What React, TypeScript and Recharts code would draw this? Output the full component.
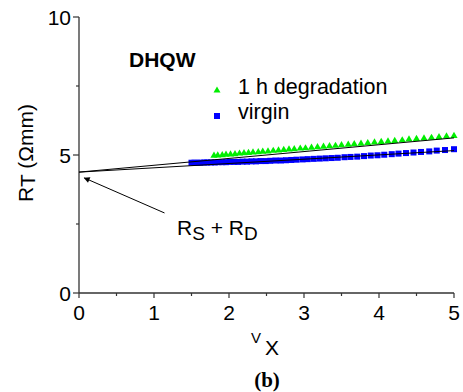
import React from 'react';
import { ScatterChart, Scatter, XAxis, YAxis } from 'recharts';

const FONT = '"Liberation Sans", Arial, Helvetica, sans-serif';

const xTicks = [0, 0.5, 1, 1.5, 2, 2.5, 3, 3.5, 4, 4.5, 5];
const yTicks = [0, 2.5, 5, 7.5, 10];

const degradedX = [1.80, 1.85, 1.91, 1.96, 2.02, 2.08, 2.14, 2.20, 2.26, 2.32, 2.39, 2.45, 2.52, 2.59, 2.66, 2.73, 2.80, 2.87, 2.95, 3.02, 3.10, 3.18, 3.26, 3.34, 3.42, 3.50, 3.59, 3.67, 3.76, 3.85, 3.94, 4.03, 4.12, 4.21, 4.31, 4.40, 4.50, 4.60, 4.70, 4.80, 4.90, 5.00];
const degradedY = [5.00, 5.01, 5.02, 5.04, 5.05, 5.06, 5.08, 5.09, 5.10, 5.12, 5.13, 5.15, 5.16, 5.18, 5.19, 5.21, 5.23, 5.24, 5.26, 5.27, 5.29, 5.31, 5.33, 5.35, 5.36, 5.38, 5.40, 5.42, 5.44, 5.46, 5.48, 5.50, 5.52, 5.54, 5.56, 5.59, 5.61, 5.63, 5.65, 5.67, 5.70, 5.72];

const virginX = [1.50, 1.54, 1.58, 1.62, 1.67, 1.71, 1.76, 1.81, 1.86, 1.91, 1.96, 2.01, 2.07, 2.12, 2.18, 2.24, 2.30, 2.36, 2.42, 2.49, 2.55, 2.62, 2.69, 2.76, 2.83, 2.90, 2.98, 3.05, 3.13, 3.21, 3.29, 3.37, 3.45, 3.54, 3.62, 3.71, 3.80, 3.89, 3.98, 4.07, 4.17, 4.26, 4.36, 4.46, 4.56, 4.67, 4.77, 4.88, 5.00];
const virginY = [4.72, 4.72, 4.72, 4.72, 4.73, 4.73, 4.73, 4.73, 4.74, 4.74, 4.74, 4.75, 4.75, 4.75, 4.76, 4.76, 4.77, 4.77, 4.78, 4.78, 4.79, 4.80, 4.80, 4.81, 4.82, 4.83, 4.84, 4.85, 4.86, 4.87, 4.88, 4.89, 4.90, 4.92, 4.93, 4.94, 4.96, 4.98, 4.99, 5.01, 5.03, 5.05, 5.07, 5.09, 5.11, 5.13, 5.16, 5.18, 5.21];

const fitX = [0, 5];
const fitUpperY = [4.38, 5.62];
const fitLowerY = [4.38, 5.16];

const arrowX = [1.14, 0.07];
const arrowY = [2.9, 4.17];

const zip = (xs: number[], ys: number[]) => xs.map((x, i) => ({ x, y: ys[i] }));

const degradedData = zip(degradedX, degradedY);
const virginData = zip(virginX, virginY);
const fitUpper = zip(fitX, fitUpperY);
const fitLower = zip(fitX, fitLowerY);
const arrowData = zip(arrowX, arrowY);

const AXIS = '#333';

const BottomTick = (p: any) => {
  const { x, y, payload } = p;
  const major = payload.value % 1 === 0;
  return (
    <g>
      <line x1={x} y1={y} x2={x} y2={y + (major ? 5 : 3)} stroke={AXIS} strokeWidth={1.2} />
      {major && (
        <text x={x} y={y + 26.5} textAnchor="middle" fontSize={21} fontFamily={FONT} fill="#000">
          {payload.value}
        </text>
      )}
    </g>
  );
};

const LeftTick = (p: any) => {
  const { x, y, payload } = p;
  const major = payload.value % 5 === 0;
  return (
    <g>
      <line x1={x} y1={y} x2={x - (major ? 6 : 3)} y2={y} stroke={AXIS} strokeWidth={1.2} />
      {major && (
        <text x={x - 8} y={y + 7.5} textAnchor="end" fontSize={21} fontFamily={FONT} fill="#000">
          {payload.value}
        </text>
      )}
    </g>
  );
};

const TopTick = (p: any) => {
  const { x, y, payload } = p;
  const major = payload.value % 1 === 0;
  return <line x1={x} y1={y} x2={x} y2={y + (major ? 4 : 3)} stroke={AXIS} strokeWidth={1.2} />;
};

const RightTick = (p: any) => {
  const { x, y, payload } = p;
  const major = payload.value % 5 === 0;
  return <line x1={x} y1={y} x2={x - (major ? 5 : 3)} y2={y} stroke={AXIS} strokeWidth={1.2} />;
};

const Triangle = (p: any) => {
  const { cx, cy } = p;
  return <polygon points={`${cx - 3.6},${cy + 2.8} ${cx + 3.6},${cy + 2.8} ${cx},${cy - 3.4}`} fill="#00ee00" />;
};

const Square = (p: any) => {
  const { cx, cy } = p;
  return <rect x={cx - 3} y={cy - 3} width={6} height={6} fill="#0000ff" />;
};

const Nothing = () => <g />;

export default function App() {
  return (
    <div style={{ position: 'absolute', left: 0, top: 0, width: 463, height: 392, background: '#fff' }}>
      <svg width={0} height={0} style={{ position: 'absolute' }}>
        <defs>
          <marker id="arrowHead" viewBox="0 0 10 10" refX="9" refY="5" markerWidth="7" markerHeight="6" orient="auto" markerUnits="userSpaceOnUse">
            <path d="M0,0 L10,5 L0,10 Z" fill="#000" />
          </marker>
        </defs>
      </svg>
      <ScatterChart width={463} height={392} margin={{ top: 17, right: 9, left: 19, bottom: 69 }}>
        <XAxis
          xAxisId={0}
          type="number"
          dataKey="x"
          domain={[0, 5]}
          ticks={xTicks}
          interval={0}
          height={30}
          tickSize={0}
          tickMargin={0}
          tickLine={false}
          axisLine={{ stroke: AXIS, strokeWidth: 1.3 }}
          tick={(p: any) => <BottomTick {...p} />}
        />
        <XAxis
          xAxisId="top"
          orientation="top"
          type="number"
          dataKey="x"
          domain={[0, 5]}
          ticks={xTicks}
          interval={0}
          height={0}
          tickSize={0}
          tickMargin={0}
          tickLine={false}
          axisLine={{ stroke: AXIS, strokeWidth: 1.3 }}
          tick={(p: any) => <TopTick {...p} />}
        />
        <YAxis
          yAxisId={0}
          type="number"
          dataKey="y"
          domain={[0, 10]}
          ticks={yTicks}
          interval={0}
          width={60}
          tickSize={0}
          tickMargin={0}
          tickLine={false}
          axisLine={{ stroke: AXIS, strokeWidth: 1.3 }}
          tick={(p: any) => <LeftTick {...p} />}
        />
        <YAxis
          yAxisId="right"
          orientation="right"
          type="number"
          dataKey="y"
          domain={[0, 10]}
          ticks={yTicks}
          interval={0}
          width={0}
          tickSize={0}
          tickMargin={0}
          tickLine={false}
          axisLine={{ stroke: AXIS, strokeWidth: 1.3 }}
          tick={(p: any) => <RightTick {...p} />}
        />
        <Scatter xAxisId={0} yAxisId={0} data={virginData} shape={(p: any) => <Square {...p} />} isAnimationActive={false} />
        <Scatter xAxisId={0} yAxisId={0} data={degradedData} shape={(p: any) => <Triangle {...p} />} isAnimationActive={false} />
        <Scatter xAxisId={0} yAxisId={0} data={fitUpper} line={{ stroke: '#000', strokeWidth: 1 }} shape={Nothing} isAnimationActive={false} />
        <Scatter xAxisId={0} yAxisId={0} data={fitLower} line={{ stroke: '#000', strokeWidth: 1 }} shape={Nothing} isAnimationActive={false} />
        <Scatter xAxisId={0} yAxisId={0} data={arrowData} line={{ stroke: '#000', strokeWidth: 1, markerEnd: 'url(#arrowHead)' } as any} shape={Nothing} isAnimationActive={false} />
      </ScatterChart>
      <svg width={463} height={392} style={{ position: 'absolute', left: 0, top: 0, pointerEvents: 'none' }}>
        <g fontFamily={FONT} fill="#000">
          <text x={129} y={67} fontSize={21} fontWeight="bold">DHQW</text>
          <polygon points="213.5,92.5 220.5,92.5 217,86.5" fill="#00ee00" />
          <text x={238} y={94} fontSize={21.5}>1 h degradation</text>
          <rect x={214} y={113} width={6} height={6} fill="#0000ff" />
          <text x={238} y={119} fontSize={21.5}>virgin</text>
          <text x={177} y={235} fontSize={21}>
            R<tspan dy={5} fontSize={19}>S</tspan>
            <tspan dy={-5}> + R</tspan>
            <tspan dy={5} fontSize={19}>D</tspan>
          </text>
          <text x={251} y={343} fontSize={15}>
            V<tspan x={265} y={355} fontSize={21}>X</tspan>
          </text>
          <text transform="translate(33,153) rotate(-90)" textAnchor="middle" fontSize={21}>
            R<tspan dy={2}>T</tspan>
            <tspan dy={-2}> (Ωmm)</tspan>
          </text>
          <text x={267} y={387} textAnchor="middle" fontSize={21} fontWeight="bold" fontFamily='"Liberation Serif", "Times New Roman", serif'>(b)</text>
        </g>
      </svg>
    </div>
  );
}
